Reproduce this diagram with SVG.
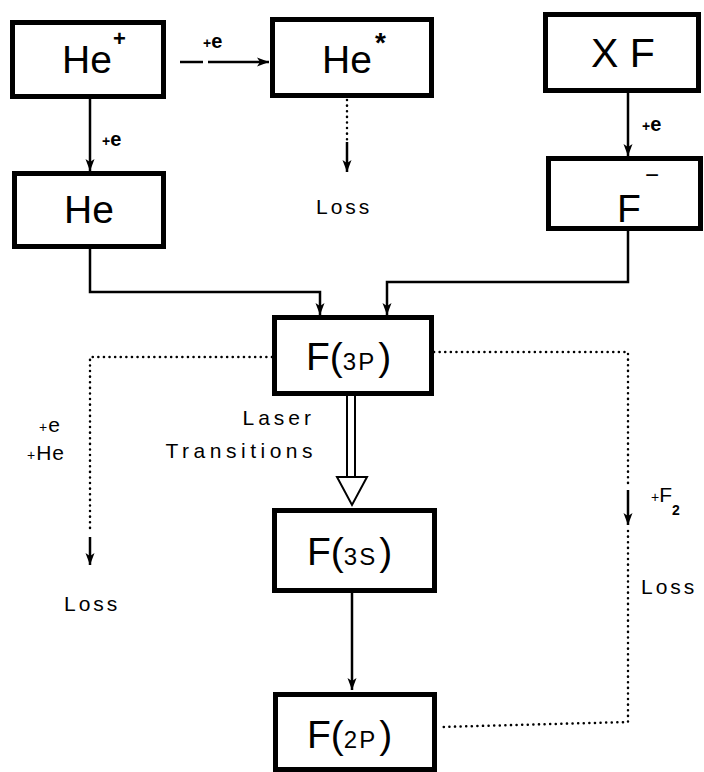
<svg xmlns="http://www.w3.org/2000/svg" width="704" height="772" viewBox="0 0 704 772">
<defs>
<marker id="ah" viewBox="0 0 12 10" refX="12" refY="5" markerWidth="12" markerHeight="10" markerUnits="userSpaceOnUse" orient="auto">
<path d="M0,0.5 L12,5 L0,9.5 L3,5 z" fill="#000"/>
</marker>
<style>
.box{fill:#fff;stroke:#000;stroke-width:5}
.big{font-family:"Liberation Sans",Arial,sans-serif;font-size:39px;fill:#000}
.lbl{font-family:"Liberation Sans",Arial,sans-serif;font-size:21px;fill:#000;letter-spacing:3px}
.pe{font-family:"Liberation Sans",Arial,sans-serif;font-size:20px;font-weight:bold;fill:#000}
.pl{font-size:14px}
.solid{fill:none;stroke:#000;stroke-width:2.5}
.dot{fill:none;stroke:#000;stroke-width:2.5;stroke-dasharray:0.1 5.5;stroke-linecap:round}
</style>
</defs>
<rect width="704" height="772" fill="#fff"/>

<g id="connectors">
<path class="solid" d="M180,62 H203"/>
<path class="solid" d="M208,62 H269" marker-end="url(#ah)"/>
<path class="solid" d="M90,99 V171" marker-end="url(#ah)"/>
<path class="dot" d="M347,100 V140"/>
<path class="solid" d="M347,142 V172" marker-end="url(#ah)"/>
<path class="solid" d="M628,93 V156" marker-end="url(#ah)"/>
<path class="solid" d="M90,249 V292 H320 V315" marker-end="url(#ah)"/>
<path class="solid" d="M628,231 V282 H387 V315" marker-end="url(#ah)"/>
<path class="dot" d="M272,357 H90 V533"/>
<path class="solid" d="M90,537 V565" marker-end="url(#ah)"/>
<path class="dot" d="M434,352 H628 V486"/>
<path class="solid" d="M628,490 V525" marker-end="url(#ah)"/>
<path class="dot" d="M628,531 V722 L440,727"/>
<path class="solid" d="M352,593 V690" marker-end="url(#ah)"/>
<g id="laser-arrow">
<path class="solid" d="M347,396 V477 M355,396 V477" style="stroke-width:2"/>
<path d="M337,477 L367,477 L352,505 z" fill="#fff" stroke="#000" stroke-width="2"/>
</g>
<text class="pe" x="203" y="48"><tspan class="pl">+</tspan>e</text>
<text class="pe" x="102" y="146"><tspan class="pl">+</tspan>e</text>
<text class="pe" x="642" y="131"><tspan class="pl">+</tspan>e</text>
<text class="lbl" x="39" y="432" style="letter-spacing:1px"><tspan style="font-size:14px">+</tspan>e</text>
<text class="lbl" x="27" y="460" style="letter-spacing:1px"><tspan style="font-size:14px">+</tspan>He</text>
<text class="lbl" x="651" y="502" style="letter-spacing:0"><tspan style="font-size:14px">+</tspan>F<tspan style="font-size:14px;font-weight:bold" dy="13">2</tspan></text>
<text class="lbl" x="315" y="425" text-anchor="end" style="letter-spacing:4px">Laser</text>
<text class="lbl" x="317" y="458" text-anchor="end" style="letter-spacing:4.5px">Transitions</text>
<text class="lbl" x="316" y="214">Loss</text>
<text class="lbl" x="64" y="611">Loss</text>
<text class="lbl" x="641" y="594">Loss</text>
</g>

<g id="He-plus">
<rect class="box" x="12.5" y="22.5" width="151" height="74"/>
<text class="big" x="62" y="73">He</text>
<text class="pe" x="113" y="46" style="font-size:22px">+</text>
</g>
<g id="He-star">
<rect class="box" x="272.5" y="19.5" width="159" height="76"/>
<text class="big" x="322" y="73">He</text>
<text class="big" x="375" y="52" style="font-size:28px;font-weight:bold">*</text>
</g>
<g id="XF">
<rect class="box" x="545.5" y="14.5" width="153" height="76"/>
<text class="big" x="591" y="67" style="font-size:41px">X F</text>
</g>
<g id="He">
<rect class="box" x="14.5" y="173.5" width="149" height="73"/>
<text class="big" x="64" y="223">He</text>
</g>
<g id="F-minus">
<rect class="box" x="548.5" y="158.5" width="152" height="70"/>
<text class="big" x="617" y="222">F</text>
<text class="big" x="645" y="183" style="font-size:24px">−</text>
</g>
<g id="F3P">
<rect class="box" x="274.5" y="317.5" width="157" height="76"/>
<text class="big" x="306" y="370">F(<tspan style="font-size:24px;letter-spacing:2px">3P</tspan><tspan dx="2">)</tspan></text>
</g>
<g id="F3S">
<rect class="box" x="274.5" y="510.5" width="160" height="80"/>
<text class="big" x="307" y="565">F(<tspan style="font-size:24px;letter-spacing:2px">3S</tspan><tspan dx="2">)</tspan></text>
</g>
<g id="F2P">
<rect class="box" x="275.5" y="694.5" width="159" height="75"/>
<text class="big" x="307" y="748">F(<tspan style="font-size:24px;letter-spacing:2px">2P</tspan><tspan dx="2">)</tspan></text>
</g>
</svg>
